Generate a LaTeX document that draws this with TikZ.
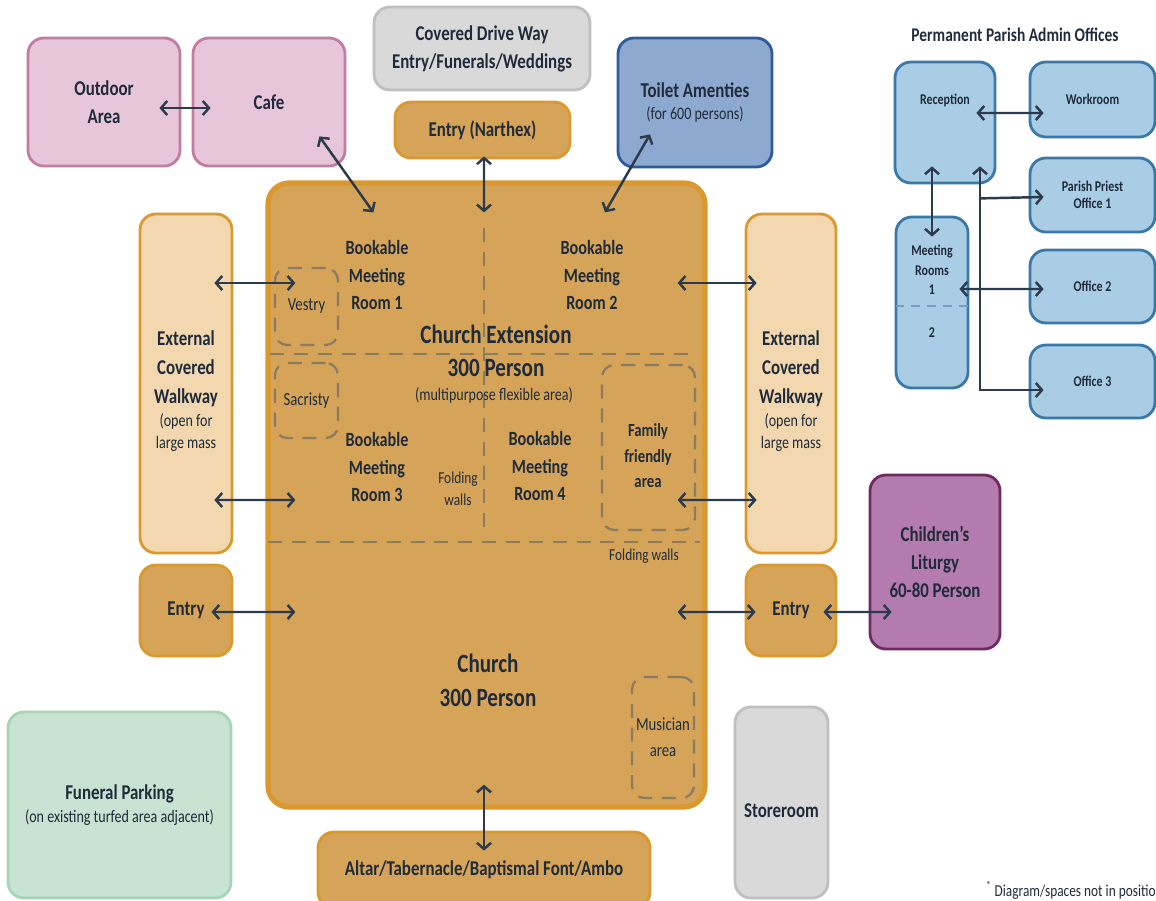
\documentclass[tikz,border=0pt]{standalone}
\usepackage{fontspec}
\setmainfont{Carlito}[FakeStretch=0.8]
\usepackage{xcolor}
\usetikzlibrary{arrows.meta, positioning, calc}

\definecolor{txt}{HTML}{1F2B3A}
\definecolor{arrc}{HTML}{2B3A4D}
\definecolor{dashc}{HTML}{8B7B61}
\definecolor{goldfill}{HTML}{D6A458}
\definecolor{goldline}{HTML}{D9992F}
\definecolor{palefill}{HTML}{F2D7AF}
\definecolor{pinkfill}{HTML}{E7C6D9}
\definecolor{pinkline}{HTML}{C27BA3}
\definecolor{greyfill}{HTML}{D9D9D9}
\definecolor{greyline}{HTML}{BFBFBF}
\definecolor{toiletfill}{HTML}{8EA9D0}
\definecolor{toiletline}{HTML}{2C5A9A}
\definecolor{officefill}{HTML}{A9CDE4}
\definecolor{officeline}{HTML}{3A78A8}
\definecolor{kidsfill}{HTML}{B47BAF}
\definecolor{kidsline}{HTML}{6E2A62}
\definecolor{greenfill}{HTML}{C8E3D2}
\definecolor{greenline}{HTML}{A6D4B6}

\begin{document}
\begin{tikzpicture}
[x=0.02cm, y=-0.02cm, >={Straight Barb[length=3.5pt,width=8pt]},
arr/.style={draw=arrc, line width=1.4pt, <->},
sz/.style 2 args={minimum width=#1*0.02cm, minimum height=#2*0.02cm}]
\useasboundingbox (0,0) rectangle (1156,900);

% Define styles for rooms, dashed zones and labels
\tikzstyle{room} = [draw, rectangle, rounded corners=9pt, line width=1.6pt, text=txt, align=center, inner sep=0pt, font=\fontsize{12}{16}\selectfont\bfseries]
\tikzstyle{pinkroom} = [room, fill=pinkfill, draw=pinkline]
\tikzstyle{greyroom} = [room, fill=greyfill, draw=greyline]
\tikzstyle{goldroom} = [room, fill=goldfill, draw=goldline]
\tikzstyle{paleroom} = [room, fill=palefill, draw=goldline]
\tikzstyle{office} = [room, fill=officefill, draw=officeline, font=\fontsize{8.5}{9.5}\selectfont\bfseries]
\tikzstyle{zone} = [draw=dashc, dash pattern=on 8pt off 5.5pt, rounded corners=7pt, line width=1.3pt, text=txt, align=center, inner sep=0pt, font=\fontsize{10.5}{14.5}\selectfont]
\tikzstyle{wall} = [draw=dashc, dash pattern=on 8pt off 5.5pt, line width=1.3pt]
\tikzstyle{tag} = [text=txt, align=center, inner sep=0pt, font=\fontsize{11.5}{15.6}\selectfont\bfseries]
\tikzstyle{bigtag} = [tag, font=\fontsize{15}{19.3}\selectfont\bfseries]
\tikzstyle{smalltag} = [tag, font=\fontsize{9.5}{12.5}\selectfont]

% Nodes placement
\node [pinkroom, sz={152}{128}] (outdoor) at (104,102) {Outdoor\\Area};
\node [pinkroom, sz={152}{128}] (cafe) at (269,102) {Cafe};
\node [greyroom, sz={216}{83}] (drive) at (482,48.5) {Covered Drive Way\\Entry/Funerals/Weddings};
\node [goldroom, sz={175}{56}] (narthex) at (482.5,130) {Entry (Narthex)};
\node [room, fill=toiletfill, draw=toiletline, sz={154}{129}] (toilet) at (695,102.5)
  {Toilet Amenties\\[-3pt]{\mdseries\fontsize{10}{12}\selectfont (for 600 persons)}};
\node [goldroom, line width=3pt, rounded corners=12pt, sz={437}{624}] (church) at (486.5,495) {};
\node [paleroom, sz={92}{339}] (walkL) at (186,383.5) {};
\node [tag, font=\fontsize{12}{16.5}\selectfont\bfseries] (walkLlabel) at (186,391)
  {External\\Covered\\Walkway\\[-3.5pt]{\mdseries\fontsize{10}{12}\selectfont (open for}\\[-4pt]{\mdseries\fontsize{10}{12}\selectfont large mass}};
\node [paleroom, sz={90}{339}] (walkR) at (791,383.5) {};
\node [tag, font=\fontsize{12}{16.5}\selectfont\bfseries] (walkRlabel) at (791,391)
  {External\\Covered\\Walkway\\[-3.5pt]{\mdseries\fontsize{10}{12}\selectfont (open for}\\[-4pt]{\mdseries\fontsize{10}{12}\selectfont large mass}};
\node [goldroom, sz={92}{91}] (entryL) at (186,610.5) {Entry};
\node [goldroom, sz={90}{91}] (entryR) at (791,610.5) {Entry};
\node [room, fill=kidsfill, draw=kidsline, sz={130}{174}] (kids) at (935,562) {Children’s\\Liturgy\\60-80 Person};
\node [room, fill=greenfill, draw=greenline, sz={223}{186}] (funeral) at (119.5,805)
  {Funeral Parking\\[-3pt]{\mdseries\fontsize{10}{12}\selectfont (on existing turfed area adjacent)}};
\node [goldroom, sz={332}{76}] (altar) at (484,870) {Altar/Tabernacle/Baptismal Font/Ambo};
\node [greyroom, sz={93}{191}] (store) at (781.5,802.5) {\\[1pt]Storeroom};

% Inside the church
\draw [wall] ([shift={(-2.5,48)}]church.north) -- ([shift={(-2.5,353)}]church.north);
\draw [wall] ([shift={(5,-141)}]church.west) -- ([shift={(-18,-141)}]church.east);
\draw [wall] ([shift={(3,47)}]church.west) -- ([shift={(-8,47)}]church.east);
\node [zone, sz={63}{77}] (vestry) at (306.5,306.5) {Vestry};
\node [zone, sz={63}{75}] (sacristy) at (306.5,400.5) {Sacristy};
\node [zone, sz={93}{165}] (family) at (648.5,447.5) {};
\node [tag, font=\fontsize{10.5}{14.5}\selectfont\bfseries] (familylabel) at (648,456) {Family\\friendly\\area};
\node [zone, sz={62}{121}, font=\fontsize{10.5}{15}\selectfont] (musician) at (663,737.5) {Musician\\area};
\node [tag] (room1) at (377,275) {Bookable\\Meeting\\Room 1};
\node [tag] (room2) at (592,275) {Bookable\\Meeting\\Room 2};
\node [tag] (room3) at (377,467) {Bookable\\Meeting\\Room 3};
\node [tag] (room4) at (540,466) {Bookable\\Meeting\\Room 4};
\node [bigtag] (extension) at (496,334) {Church Extension};
\node [bigtag] (capacity) at (496,368) {300 Person};
\node [smalltag, font=\fontsize{10}{12}\selectfont] (flexible) at (494,395) {(multipurpose flexible area)};
\node [smalltag] (folding) at (458,489) {Folding\\walls};
\node [smalltag] (foldingB) at (644,556) {Folding walls};
\node [bigtag] (nave) at (488,680) {Church\\300 Person};

% Permanent parish admin offices
\node [tag, font=\fontsize{11}{14}\selectfont\bfseries] (admin) at (1015,35) {Permanent Parish Admin Offices};
\node [office, sz={100}{121}] (reception) at (945,122.5) {};
\node [tag, font=\fontsize{8.5}{11}\selectfont\bfseries] (receptionlabel) at (945,100) {Reception};
\node [office, sz={125}{75}] (workroom) at (1092.5,99.5) {Workroom};
\node [office, sz={125}{74}] (office1) at (1092.5,195) {Parish Priest\\Office 1};
\node [office, sz={72}{171}] (meeting) at (932,302.5) {};
\node [tag, font=\fontsize{8.5}{11}\selectfont\bfseries] (meetinglabel) at (932,270) {Meeting\\Rooms\\1};
\node [tag, font=\fontsize{8.5}{11}\selectfont\bfseries] (meetinglabelB) at (932,333) {2};
\draw [draw=officeline!70, dash pattern=on 5pt off 4pt, line width=1.2pt] ([shift={(1,3.5)}]meeting.west) -- ([shift={(-1,3.5)}]meeting.east);
\node [office, sz={125}{73}] (office2) at (1092.5,286.5) {Office 2};
\node [office, sz={125}{73}] (office3) at (1092.5,381.5) {Office 3};

\node [smalltag, anchor=east] (footnote) at (1156,890) {\textsuperscript{*} Diagram/spaces not in positio};

% Draw edges
\draw [arr] ([shift={(-22,6)}]outdoor.east) -- ([shift={(19,6)}]cafe.west);
\draw [arr] ([shift={(-27,-31)}]cafe.south east) -- ([shift={(108,32)}]church.north west);
\draw [arr] ([shift={(1.5,-3)}]narthex.south) -- ([shift={(-2.5,32)}]church.north);
\draw [arr] ([shift={(-45,-34)}]toilet.south) -- ([shift={(118.5,32)}]church.north);
\draw [arr] ([shift={(-19,-100.5)}]walkL.east) -- ([shift={(30,-212)}]church.west);
\draw [arr] ([shift={(-19,116.5)}]walkL.east) -- ([shift={(30,5)}]church.west);
\draw [arr] ([shift={(-30,-212)}]church.east) -- ([shift={(12,-100.5)}]walkR.west);
\draw [arr] ([shift={(-30,5)}]church.east) -- ([shift={(12,116.5)}]walkR.west);
\draw [arr] ([shift={(-22,1.5)}]entryL.east) -- ([shift={(30,117)}]church.west);
\draw [arr] ([shift={(-30,117)}]church.east) -- ([shift={(11,1.5)}]entryR.west);
\draw [arr] ([shift={(-14,1.5)}]entryR.east) -- ([shift={(23,50)}]kids.west);
\draw [arr] ([shift={(-2.5,-25)}]church.south) -- ([shift={(0,20)}]altar.north);

\draw [arr] ([shift={(-20,-9.5)}]reception.east) -- ([shift={(15,13.5)}]workroom.west);
\draw [arr] ([shift={(-13,-18)}]reception.south) -- ([shift={(0,21)}]meeting.north);
\draw [arr] ([shift={(35,-18)}]reception.south) |- ([shift={(15,8.5)}]office3.west);
\draw [arr, -> ] ([shift={(35,14)}]reception.south) -- ([shift={(15,2)}]office1.west);
\draw [arr] ([shift={(-10,-13.5)}]meeting.east) -- ([shift={(15,2.5)}]office2.west);
\end{tikzpicture}
\end{document}
